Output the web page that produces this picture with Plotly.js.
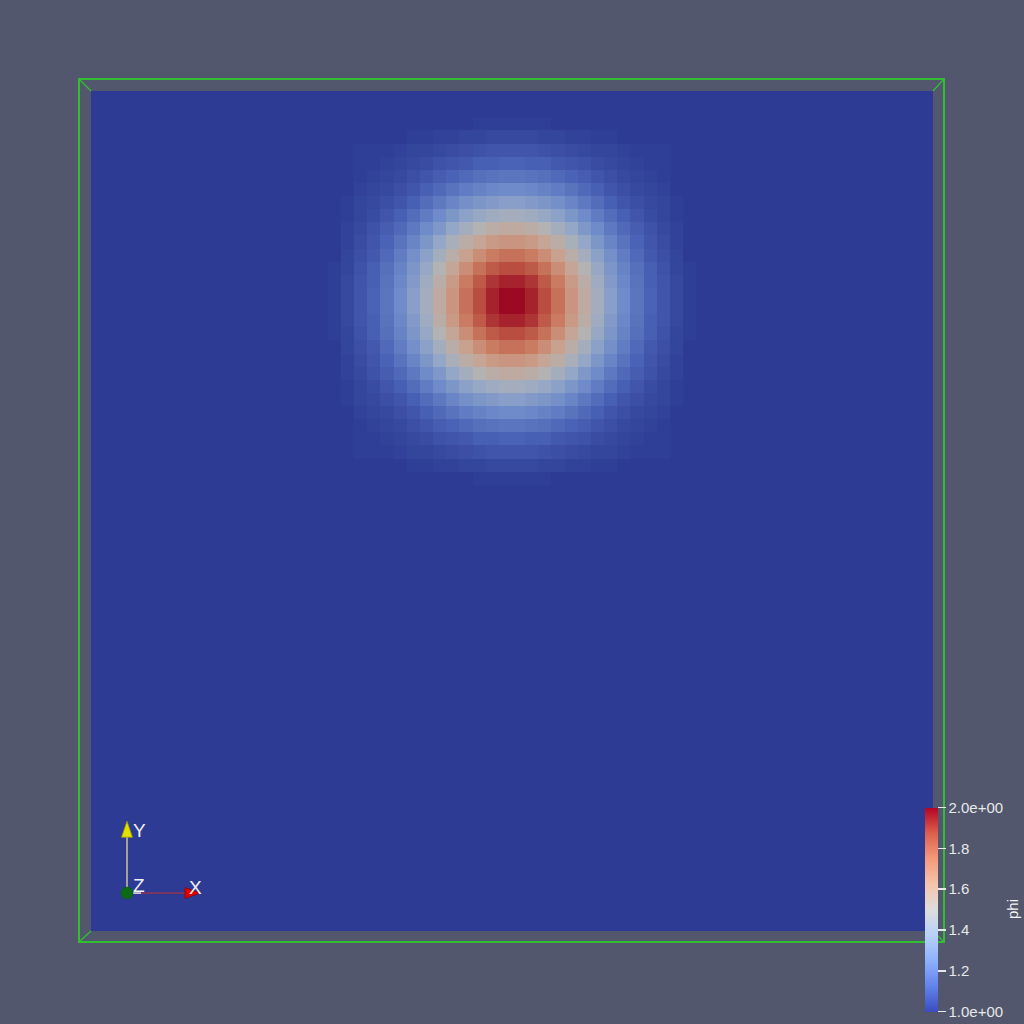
<!DOCTYPE html>
<html>
<head>
<meta charset="utf-8">
<script src="https://cdn.plot.ly/plotly-3.0.1.min.js"></script>
<style>html,body{margin:0;padding:0;background:#52576e;}#chart{width:1024px;height:1024px;}</style>
</head>
<body>
<div id="chart"></div>
<script>
// ---- data (values of phi on a 64 x 64 cell grid) ----
const gridSize = 64;
const backgroundValue = 1.0;
const blobTopRow = 2;     // first grid row (from top) covered by blobRows
const blobLeftCol = 18;   // first grid column covered by blobRows
const blobRows = [
[1.00,1.00,1.00,1.00,1.00,1.00,1.00,1.00,1.00,1.00,1.00,1.01,1.01,1.01,1.01,1.01,1.01,1.00,1.00,1.00,1.00,1.00,1.00,1.00,1.00,1.00,1.00,1.00],
[1.00,1.00,1.00,1.00,1.00,1.00,1.01,1.01,1.02,1.02,1.03,1.03,1.04,1.04,1.04,1.04,1.03,1.03,1.02,1.02,1.01,1.01,1.00,1.00,1.00,1.00,1.00,1.00],
[1.00,1.00,1.01,1.01,1.01,1.02,1.03,1.03,1.04,1.05,1.06,1.07,1.08,1.08,1.08,1.08,1.07,1.06,1.05,1.04,1.03,1.03,1.02,1.01,1.01,1.01,1.00,1.00],
[1.00,1.00,1.01,1.01,1.02,1.03,1.04,1.05,1.07,1.08,1.09,1.11,1.11,1.12,1.12,1.11,1.11,1.09,1.08,1.07,1.05,1.04,1.03,1.02,1.01,1.01,1.00,1.00],
[1.00,1.00,1.01,1.02,1.03,1.04,1.06,1.08,1.10,1.12,1.14,1.16,1.17,1.18,1.18,1.17,1.16,1.14,1.12,1.10,1.08,1.06,1.04,1.03,1.02,1.01,1.00,1.00],
[1.00,1.00,1.02,1.03,1.04,1.06,1.08,1.11,1.14,1.17,1.20,1.22,1.24,1.25,1.25,1.24,1.22,1.20,1.17,1.14,1.11,1.08,1.06,1.04,1.03,1.02,1.00,1.00],
[1.00,1.01,1.03,1.04,1.06,1.08,1.11,1.15,1.19,1.23,1.27,1.30,1.32,1.34,1.34,1.32,1.30,1.27,1.23,1.19,1.15,1.11,1.08,1.06,1.04,1.03,1.01,1.00],
[1.00,1.01,1.03,1.05,1.08,1.11,1.15,1.20,1.25,1.30,1.35,1.39,1.42,1.44,1.44,1.42,1.39,1.35,1.30,1.25,1.20,1.15,1.11,1.08,1.05,1.03,1.01,1.00],
[1.00,1.02,1.04,1.07,1.10,1.14,1.19,1.25,1.31,1.38,1.44,1.50,1.54,1.56,1.56,1.54,1.50,1.44,1.38,1.31,1.25,1.19,1.14,1.10,1.07,1.04,1.02,1.00],
[1.00,1.02,1.05,1.08,1.12,1.17,1.23,1.30,1.38,1.46,1.54,1.60,1.65,1.67,1.67,1.65,1.60,1.54,1.46,1.38,1.30,1.23,1.17,1.12,1.08,1.05,1.02,1.00],
[1.00,1.03,1.06,1.09,1.14,1.20,1.27,1.35,1.44,1.54,1.62,1.70,1.76,1.79,1.79,1.76,1.70,1.62,1.54,1.44,1.35,1.27,1.20,1.14,1.09,1.06,1.03,1.00],
[1.01,1.03,1.07,1.11,1.16,1.22,1.30,1.39,1.50,1.60,1.70,1.79,1.85,1.88,1.88,1.85,1.79,1.70,1.60,1.50,1.39,1.30,1.22,1.16,1.11,1.07,1.03,1.01],
[1.01,1.04,1.08,1.11,1.17,1.24,1.32,1.42,1.54,1.65,1.76,1.85,1.92,1.95,1.95,1.92,1.85,1.76,1.65,1.54,1.42,1.32,1.24,1.17,1.11,1.08,1.04,1.01],
[1.01,1.04,1.08,1.12,1.18,1.25,1.34,1.44,1.56,1.67,1.79,1.88,1.95,1.99,1.99,1.95,1.88,1.79,1.67,1.56,1.44,1.34,1.25,1.18,1.12,1.08,1.04,1.01],
[1.01,1.04,1.08,1.12,1.18,1.25,1.34,1.44,1.56,1.67,1.79,1.88,1.95,1.99,1.99,1.95,1.88,1.79,1.67,1.56,1.44,1.34,1.25,1.18,1.12,1.08,1.04,1.01],
[1.01,1.04,1.08,1.11,1.17,1.24,1.32,1.42,1.54,1.65,1.76,1.85,1.92,1.95,1.95,1.92,1.85,1.76,1.65,1.54,1.42,1.32,1.24,1.17,1.11,1.08,1.04,1.01],
[1.01,1.03,1.07,1.11,1.16,1.22,1.30,1.39,1.50,1.60,1.70,1.79,1.85,1.88,1.88,1.85,1.79,1.70,1.60,1.50,1.39,1.30,1.22,1.16,1.11,1.07,1.03,1.01],
[1.00,1.03,1.06,1.09,1.14,1.20,1.27,1.35,1.44,1.54,1.62,1.70,1.76,1.79,1.79,1.76,1.70,1.62,1.54,1.44,1.35,1.27,1.20,1.14,1.09,1.06,1.03,1.00],
[1.00,1.02,1.05,1.08,1.12,1.17,1.23,1.30,1.38,1.46,1.54,1.60,1.65,1.67,1.67,1.65,1.60,1.54,1.46,1.38,1.30,1.23,1.17,1.12,1.08,1.05,1.02,1.00],
[1.00,1.02,1.04,1.07,1.10,1.14,1.19,1.25,1.31,1.38,1.44,1.50,1.54,1.56,1.56,1.54,1.50,1.44,1.38,1.31,1.25,1.19,1.14,1.10,1.07,1.04,1.02,1.00],
[1.00,1.01,1.03,1.05,1.08,1.11,1.15,1.20,1.25,1.30,1.35,1.39,1.42,1.44,1.44,1.42,1.39,1.35,1.30,1.25,1.20,1.15,1.11,1.08,1.05,1.03,1.01,1.00],
[1.00,1.01,1.03,1.04,1.06,1.08,1.11,1.15,1.19,1.23,1.27,1.30,1.32,1.34,1.34,1.32,1.30,1.27,1.23,1.19,1.15,1.11,1.08,1.06,1.04,1.03,1.01,1.00],
[1.00,1.00,1.02,1.03,1.04,1.06,1.08,1.11,1.14,1.17,1.20,1.22,1.24,1.25,1.25,1.24,1.22,1.20,1.17,1.14,1.11,1.08,1.06,1.04,1.03,1.02,1.00,1.00],
[1.00,1.00,1.01,1.02,1.03,1.04,1.06,1.08,1.10,1.12,1.14,1.16,1.17,1.18,1.18,1.17,1.16,1.14,1.12,1.10,1.08,1.06,1.04,1.03,1.02,1.01,1.00,1.00],
[1.00,1.00,1.01,1.01,1.02,1.03,1.04,1.05,1.07,1.08,1.09,1.11,1.11,1.12,1.12,1.11,1.11,1.09,1.08,1.07,1.05,1.04,1.03,1.02,1.01,1.01,1.00,1.00],
[1.00,1.00,1.01,1.01,1.01,1.02,1.03,1.03,1.04,1.05,1.06,1.07,1.08,1.08,1.08,1.08,1.07,1.06,1.05,1.04,1.03,1.03,1.02,1.01,1.01,1.01,1.00,1.00],
[1.00,1.00,1.00,1.00,1.00,1.00,1.01,1.01,1.02,1.02,1.03,1.03,1.04,1.04,1.04,1.04,1.03,1.03,1.02,1.02,1.01,1.01,1.00,1.00,1.00,1.00,1.00,1.00],
[1.00,1.00,1.00,1.00,1.00,1.00,1.00,1.00,1.00,1.00,1.00,1.01,1.01,1.01,1.01,1.01,1.01,1.00,1.00,1.00,1.00,1.00,1.00,1.00,1.00,1.00,1.00,1.00]
];
const colorbarTickVals = [1.0, 1.2, 1.4, 1.6, 1.8, 2.0];
const colorbarTickText = ['1.0e+00', '1.2', '1.4', '1.6', '1.8', '2.0e+00'];
const fieldName = 'phi';
const phiMin = 1.0, phiMax = 2.0;

// ---- build grid (rows listed top to bottom) ----
const z = [];
for (let r = 0; r < gridSize; r++) {
  const row = new Array(gridSize).fill(backgroundValue);
  const br = r - blobTopRow;
  if (br >= 0 && br < blobRows.length) {
    for (let c = 0; c < blobRows[br].length; c++) row[blobLeftCol + c] = blobRows[br][c];
  }
  z.push(row);
}

// ---- colours: ParaView "Cool to Warm" ----
const coolWarmStops = [
  [0.0, [59, 76, 192]], [0.125, [98, 130, 234]], [0.25, [141, 176, 254]],
  [0.375, [184, 208, 249]], [0.5, [221, 221, 221]], [0.625, [245, 196, 173]],
  [0.75, [244, 154, 123]], [0.875, [222, 96, 77]], [1.0, [180, 4, 38]]
];
const rgb = (c, k) => 'rgb(' + c.map(v => Math.round(v * k)).join(',') + ')';
const barScale = coolWarmStops.map(s => [s[0], rgb(s[1], 1)]);
const shade = 0.77; // lit surface is darker than the legend
const surfScale = coolWarmStops.map(s => [s[0], rgb(s[1], shade + 0.08 * s[0])]);

// ---- pixel helpers for decorations ----
const L = 91, R = 933, T = 91, B = 933, W = R - L, H = B - T;
const px = p => (p - L) / W;
const py = p => (B - p) / H;

const green = '#33bd33';
const shapes = [];
const line = (x0, y0, x1, y1, color, width) => shapes.push({type: 'line', xref: 'paper', yref: 'paper',
  x0: px(x0), y0: py(y0), x1: px(x1), y1: py(y1), line: {color: color, width: width}});
// outline box
shapes.push({type: 'rect', xref: 'paper', yref: 'paper', x0: px(79), y0: py(79), x1: px(944), y1: py(944),
  line: {color: green, width: 2}, layer: 'above'});
line(79, 79, 91, 91, green, 1.3);
line(944, 79, 933, 91, green, 1.3);
line(79, 944, 91, 933, green, 1.3);
line(944, 944, 933, 933, green, 1.3);
// orientation triad
line(127, 893, 127, 838, '#c8c89a', 1.5);
line(133, 895, 141, 895, '#e8e8e8', 1.5);
line(141, 895, 186, 895, '#c83030', 1);
const path = pts => 'M ' + pts.map(p => px(p[0]) + ',' + py(p[1])).join(' L ') + ' Z';
shapes.push({type: 'path', xref: 'paper', yref: 'paper', path: path([[121.5, 839], [127, 823], [132.5, 839]]),
  fillcolor: '#e2e200', line: {color: '#9a9a00', width: 0.8}});
shapes.push({type: 'path', xref: 'paper', yref: 'paper', path: path([[185, 889.5], [200, 895], [185, 900.5]]),
  fillcolor: '#e00000', line: {color: '#900000', width: 0.8}});
shapes.push({type: 'circle', xref: 'paper', yref: 'paper', x0: px(121), y0: py(889), x1: px(133), y1: py(901),
  fillcolor: '#0b6a12', line: {color: '#0b5a10', width: 0.5}});

const lab = (t, x, y, size, angle) => ({text: t, xref: 'paper', yref: 'paper', x: px(x), y: py(y),
  showarrow: false, textangle: angle || 0, xanchor: 'center', yanchor: 'middle',
  font: {family: 'Liberation Sans, Arial, sans-serif', size: size, color: '#f2f2f2'}});

const annotations = [
  lab('Y', 139, 832, 19), lab('X', 195, 889, 19), lab('Z', 139, 887, 19),
  lab(fieldName, 1012, 911, 15, -90)
];

const heat = {
  type: 'heatmap', z: z, zmin: phiMin, zmax: phiMax, zsmooth: false,
  colorscale: surfScale, showscale: false, hoverinfo: 'skip'
};
const legend = {
  type: 'scatter', mode: 'markers', x: [-1000, -1000], y: [-1000, -1000], hoverinfo: 'skip',
  marker: {color: [phiMin, phiMax], cmin: phiMin, cmax: phiMax, colorscale: barScale, size: 1,
    showscale: true,
    colorbar: {
      thickness: 13, thicknessmode: 'pixels', len: 204, lenmode: 'pixels',
      x: px(925), xanchor: 'left', y: py(911.5), yanchor: 'middle', xpad: 0, ypad: 0,
      outlinewidth: 0, bgcolor: 'rgba(0,0,0,0)', borderwidth: 0,
      ticks: 'outside', ticklen: 8, tickwidth: 1.5, tickcolor: '#e8e8e8',
      tickvals: colorbarTickVals, ticktext: colorbarTickText,
      tickfont: {family: 'Liberation Sans, Arial, sans-serif', size: 15, color: '#e8e8e8'}
    }}
};

const layout = {
  width: 1024, height: 1024,
  margin: {l: L, r: 1024 - R, t: T, b: 1024 - B, pad: 0},
  paper_bgcolor: '#52576e', plot_bgcolor: '#52576e',
  showlegend: false,
  xaxis: {range: [-0.5, gridSize - 0.5], visible: false, fixedrange: true},
  yaxis: {range: [gridSize - 0.5, -0.5], visible: false, fixedrange: true},
  shapes: shapes, annotations: annotations
};
Plotly.newPlot('chart', [heat, legend], layout, {staticPlot: true, displayModeBar: false});
</script>
</body>
</html>
